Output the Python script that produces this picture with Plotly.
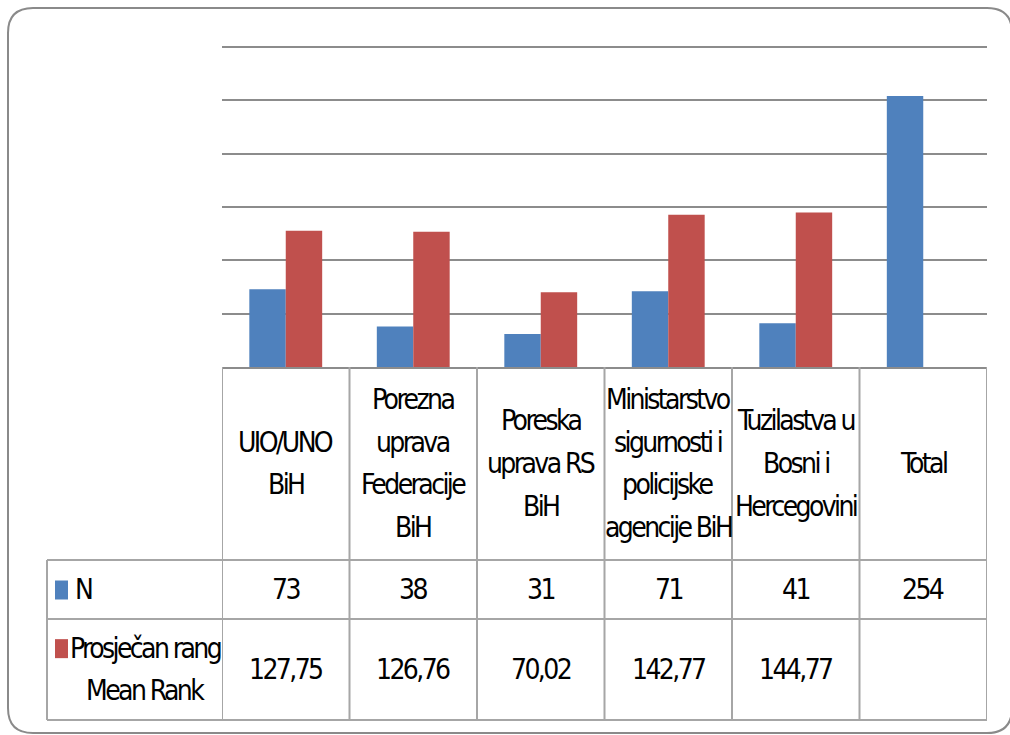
import plotly.graph_objects as go

# ---------------- data ----------------
categories = ["UIO/UNO BiH", "Porezna uprava Federacije BiH", "Poreska uprava RS BiH",
              "Ministarstvo sigurnosti i policijske agencije BiH",
              "Tuzilastva u Bosni i Hercegovini", "Total"]
header_lines = [["UIO/UNO", "BiH"],
                ["Porezna", "uprava", "Federacije", "BiH"],
                ["Poreska", "uprava RS", "BiH"],
                ["Ministarstvo", "sigurnosti i", "policijske", "agencije BiH"],
                ["Tuzilastva u", "Bosni i", "Hercegovini"],
                ["Total"]]
n_values = [73, 38, 31, 71, 41, 254]
mean_rank = [127.75, 126.76, 70.02, 142.77, 144.77, None]
series_names = ["N", "Prosječan rang Mean Rank"]
series_label_lines = [["N"], ["Prosječan rang", "Mean Rank"]]
y_ticks = [0, 50, 100, 150, 200, 250, 300]

# ---------------- styling / layout ----------------
W, H = 1010, 735
BLUE, RED = "#4F81BD", "#C0504D"
GRID = "#8c8c8c"
TLINE = "#a6a6a6"
FONT = "DejaVu Sans Condensed, Liberation Sans Narrow, Arial Narrow, sans-serif"
FS = 28
LS = "-2.6px"
LINE_H = 42.7

plot_left, plot_right, plot_top, plot_bottom = 222, 987, 47, 367
header_bottom, row1_bottom, table_bottom, label_left = 560, 619, 720, 47
Y_MAX = 300
Y_PAD = 1.5  # small headroom so the top gridline is drawn
unit_px = (plot_bottom - plot_top) / Y_MAX


def px(x):
    return x / W


def py(y):
    return 1 - y / H


def txt(s):
    return f'<span style="letter-spacing:{LS}">{s}</span>'


fig = go.Figure()
fig.add_trace(go.Bar(x=categories, y=n_values, name=series_names[0],
                     marker=dict(color=BLUE, line=dict(width=0))))
fig.add_trace(go.Bar(x=categories, y=mean_rank, name=series_names[1],
                     marker=dict(color=RED, line=dict(width=0))))

shapes = []
annotations = []

# chart-area rounded border
r = 25
x0, y0, x1, y1 = 8, 8, 1012, 733
path = (f"M {px(x0+r)},{py(y0)} L {px(x1-r)},{py(y0)} "
        f"Q {px(x1)},{py(y0)} {px(x1)},{py(y0+r)} "
        f"L {px(x1)},{py(y1-r)} Q {px(x1)},{py(y1)} {px(x1-r)},{py(y1)} "
        f"L {px(x0+r)},{py(y1)} Q {px(x0)},{py(y1)} {px(x0)},{py(y1-r)} "
        f"L {px(x0)},{py(y0+r)} Q {px(x0)},{py(y0)} {px(x0+r)},{py(y0)} Z")
shapes.append(dict(type="path", xref="paper", yref="paper", path=path,
                   line=dict(color="#8a8a8a", width=2), layer="below"))

# data table: vertical lines at category boundaries
n = len(categories)
for i in range(n + 1):
    shapes.append(dict(type="line", xref="x", yref="paper",
                       x0=i - 0.5, x1=i - 0.5, y0=py(plot_bottom), y1=py(table_bottom),
                       line=dict(color=TLINE, width=2)))
# left border of label column
shapes.append(dict(type="line", xref="paper", yref="paper",
                   x0=px(label_left), x1=px(label_left),
                   y0=py(header_bottom), y1=py(table_bottom),
                   line=dict(color=TLINE, width=2)))
# horizontal rows
for yy in (header_bottom, row1_bottom, table_bottom):
    shapes.append(dict(type="line", xref="paper", yref="paper",
                       x0=px(label_left), x1=px(plot_right), y0=py(yy), y1=py(yy),
                       line=dict(color=TLINE, width=2)))

txt_font = dict(family=FONT, size=FS, color="#000000")

# header text
header_center = (plot_bottom + header_bottom) / 2
for cat, lines in zip(categories, header_lines):
    k = len(lines)
    for j, line in enumerate(lines):
        yc = header_center + (j - (k - 1) / 2) * LINE_H
        annotations.append(dict(x=cat, xref="x", y=py(yc), yref="paper", text=txt(line),
                                showarrow=False, font=txt_font,
                                xanchor="center", yanchor="middle"))

# value rows
row_centers = [(header_bottom + row1_bottom) / 2, (row1_bottom + table_bottom) / 2]
for cat, v in zip(categories, n_values):
    annotations.append(dict(x=cat, xref="x", y=py(row_centers[0]), yref="paper",
                            text=txt(str(v)), showarrow=False, font=txt_font,
                            xanchor="center", yanchor="middle"))
for cat, v in zip(categories, mean_rank):
    if v is None:
        continue
    annotations.append(dict(x=cat, xref="x", y=py(row_centers[1]), yref="paper",
                            text=txt(f"{v:.2f}".replace(".", ",")), showarrow=False,
                            font=txt_font, xanchor="center", yanchor="middle"))

# row labels with legend keys
label_center_x = 145
for (lines, color, rc) in zip(series_label_lines, (BLUE, RED), row_centers):
    k = len(lines)
    first_y = rc + (0 - (k - 1) / 2) * LINE_H
    shapes.append(dict(type="rect", xref="paper", yref="paper",
                       x0=px(55), x1=px(68), y0=py(first_y + 10), y1=py(first_y - 9),
                       fillcolor=color, line=dict(width=0)))
    for j, line in enumerate(lines):
        yc = rc + (j - (k - 1) / 2) * LINE_H
        if k == 1:
            annotations.append(dict(x=px(73), xref="paper", y=py(yc), yref="paper",
                                    text=txt(line), showarrow=False, font=txt_font,
                                    xanchor="left", yanchor="middle"))
        else:
            annotations.append(dict(x=px(label_center_x), xref="paper", y=py(yc),
                                    yref="paper", text=txt(line), showarrow=False,
                                    font=txt_font, xanchor="center", yanchor="middle"))

fig.update_layout(
    width=W, height=H,
    margin=dict(l=0, r=0, t=0, b=0),
    paper_bgcolor="white", plot_bgcolor="white",
    barmode="group", bargap=1.5 / 3.5, bargroupgap=0,
    showlegend=False,
    shapes=shapes, annotations=annotations,
    font=dict(family=FONT, size=FS, color="#000000"),
    xaxis=dict(domain=[px(plot_left), px(plot_right)], range=[-0.5, n - 0.5],
               showticklabels=False, ticks="", showgrid=False, zeroline=False,
               showline=True, linecolor=GRID, linewidth=2, fixedrange=True),
    yaxis=dict(domain=[py(plot_bottom), py(plot_top - Y_PAD * unit_px)],
               range=[0, Y_MAX + Y_PAD],
               tickvals=y_ticks, showticklabels=False, ticks="",
               showgrid=True, gridcolor=GRID, gridwidth=2,
               zeroline=False, showline=False, fixedrange=True),
)

fig.write_html("out.html", post_script="document.body.style.margin='0';",
               config={"displayModeBar": False})
